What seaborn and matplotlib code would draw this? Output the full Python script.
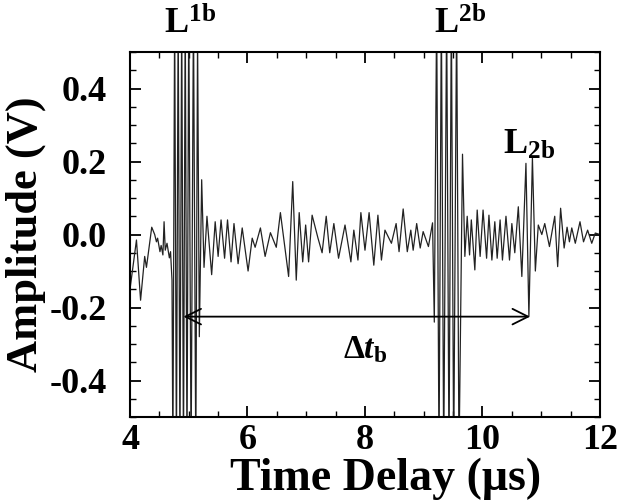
import matplotlib
matplotlib.use('Agg')
import matplotlib.pyplot as plt
import pandas as pd
import seaborn as sns
from matplotlib.ticker import MultipleLocator, FormatStrFormatter

# waveform (peaks / troughs), clipped bursts go past +-0.5
time_us = [
    4.00, 4.11, 4.18, 4.25, 4.28, 4.37, 4.42, 4.45, 4.47, 4.51, 4.53, 4.56, 4.58, 4.60,
    4.63, 4.67, 4.69, 4.715,
    4.73, 4.76, 4.79, 4.82, 4.85, 4.88, 4.91, 4.94, 4.97, 5.00, 5.04, 5.08, 5.12, 5.15,
    5.18, 5.22, 5.26, 5.31, 5.39,
    5.45, 5.50, 5.55, 5.61, 5.66, 5.72, 5.77, 5.84, 5.91, 6.01, 6.08, 6.13, 6.22, 6.30,
    6.39, 6.49, 6.56, 6.70, 6.77, 6.83, 6.88, 6.94, 6.99, 7.04, 7.10, 7.20, 7.27, 7.34,
    7.40, 7.47, 7.55, 7.66, 7.76, 7.81, 7.88, 7.93, 8.00, 8.07, 8.15, 8.22, 8.28, 8.34,
    8.45, 8.53, 8.58, 8.65, 8.72, 8.78, 8.82, 8.88, 8.94, 8.99, 9.08, 9.15,
    9.18, 9.22, 9.26, 9.30, 9.34, 9.39, 9.43, 9.47, 9.51, 9.56, 9.60, 9.66,
    9.70, 9.74, 9.78, 9.81, 9.87, 9.91, 9.96, 10.01, 10.07, 10.11, 10.16, 10.21, 10.25,
    10.30, 10.34, 10.40, 10.46, 10.50, 10.55, 10.61, 10.67, 10.74, 10.79, 10.85, 10.90,
    10.95, 11.01, 11.06, 11.14, 11.23, 11.28, 11.33, 11.39, 11.44, 11.48, 11.52, 11.58,
    11.66, 11.72, 11.79, 11.86, 11.92, 12.00,
]
amplitude_v = [
    -0.15, -0.015, -0.18, -0.06, -0.09, 0.02, 0.0, -0.02, -0.01, -0.047, -0.03, -0.056, 0.035, -0.043,
    -0.024, -0.064, -0.047, -0.125,
    -0.62, 0.62, -0.62, 0.62, -0.62, 0.62, -0.62, 0.62, -0.62, 0.62, -0.62, 0.62, -0.62, 0.55,
    -0.28, 0.15, -0.09, 0.05, -0.11,
    0.035, -0.06, 0.04, -0.065, 0.04, -0.075, 0.03, -0.08, 0.018, -0.10, -0.01, -0.035, 0.018, -0.06,
    0.005, -0.035, 0.06, -0.115, 0.145, -0.125, 0.06, -0.075, 0.026, -0.075, 0.053, -0.01, -0.05, 0.05,
    -0.05, 0.03, -0.065, 0.026, -0.075, 0.012, -0.07, 0.06, -0.043, 0.06, -0.084, 0.053, -0.07, 0.012,
    -0.024, 0.03, -0.047, 0.07, -0.047, 0.012, -0.043, 0.03, -0.037, 0.008, -0.033, 0.032,
    -0.24, 0.62, -0.62, 0.62, -0.62, 0.62, -0.62, 0.62, -0.62, 0.62, -0.62, 0.22,
    -0.06, 0.05, -0.056, 0.04, -0.097, 0.067, -0.06, 0.067, -0.065, 0.053, -0.07, 0.035, -0.065,
    0.04, -0.07, 0.05, -0.07, 0.03, -0.05, 0.076, -0.115, 0.195, -0.225, 0.21, -0.10,
    0.026, 0.0, 0.03, -0.033, 0.05, -0.088, 0.072, -0.037, 0.02, -0.02, 0.018, -0.024,
    0.035, -0.02, 0.012, -0.024, 0.004, 0.0,
]

# delay arrow between the two echoes
arrow_start = 4.91
arrow_end = 10.81
arrow_level = -0.225

sns.set_theme(style='ticks')
plt.rcParams['font.family'] = ['Liberation Serif', 'DejaVu Serif']
plt.rcParams['font.weight'] = 'bold'
plt.rcParams['text.color'] = 'black'
plt.rcParams['axes.labelcolor'] = 'black'
plt.rcParams['xtick.color'] = 'black'
plt.rcParams['ytick.color'] = 'black'
plt.rcParams['axes.unicode_minus'] = False
plt.rcParams['mathtext.fontset'] = 'custom'
plt.rcParams['mathtext.rm'] = 'Liberation Serif:bold'
plt.rcParams['mathtext.it'] = 'Liberation Serif:italic:bold'
plt.rcParams['mathtext.bf'] = 'Liberation Serif:bold'

df = pd.DataFrame({'time': time_us, 'amp': amplitude_v})

fig = plt.figure(figsize=(6.17, 5.04), dpi=100)
ax = fig.add_axes([0.2107, 0.1726, 0.7617, 0.7242])
sns.lineplot(data=df, x='time', y='amp', sort=False, estimator=None,
             color='#222222', lw=0.9, ax=ax)

ax.set_xlim(4, 12)
ax.set_ylim(-0.5, 0.5)
ax.xaxis.set_major_locator(MultipleLocator(2))
ax.xaxis.set_minor_locator(MultipleLocator(0.5))
ax.yaxis.set_major_locator(MultipleLocator(0.2))
ax.yaxis.set_minor_locator(MultipleLocator(0.05))
ax.yaxis.set_major_formatter(FormatStrFormatter('%.1f'))
ax.tick_params(which='both', direction='in', top=True, right=True)
ax.tick_params(which='major', length=8, width=1.3, labelsize=26)
ax.tick_params(axis='x', which='major', pad=5)
ax.tick_params(axis='y', which='major', pad=17)
ax.tick_params(which='minor', length=4.5, width=1.0)
for s in ax.spines.values():
    s.set_linewidth(1.5)
    s.set_color('black')

ax.set_xlabel('Time Delay (\u03bcs)', fontsize=33, fontweight='bold')
ax.xaxis.set_label_coords(0.543, -0.112, transform=ax.transAxes)
ax.xaxis.label.set_va('top')
ax.set_ylabel('Amplitude (V)', fontsize=32, fontweight='bold')
ax.yaxis.set_label_coords(-0.178, 0.5)

ax.annotate('', xy=(arrow_start, arrow_level), xytext=(arrow_end, arrow_level),
            arrowprops=dict(arrowstyle='<->', lw=1.3, color='black', mutation_scale=28,
                            shrinkA=0, shrinkB=0))

ax.text(5.02, 0.575, r'L$^{\mathbf{1b}}$', fontsize=26, ha='center', va='center', clip_on=False)
ax.text(9.62, 0.575, r'L$^{\mathbf{2b}}$', fontsize=26, ha='center', va='center', clip_on=False)
ax.text(10.8, 0.245, r'L$_{\mathbf{2b}}$', fontsize=26, ha='center', va='center')
ax.text(8.0, -0.315, r'$\Delta\mathit{t}_{\mathbf{b}}$', fontsize=24, ha='center', va='center')

fig.savefig('out.png', dpi=100)
